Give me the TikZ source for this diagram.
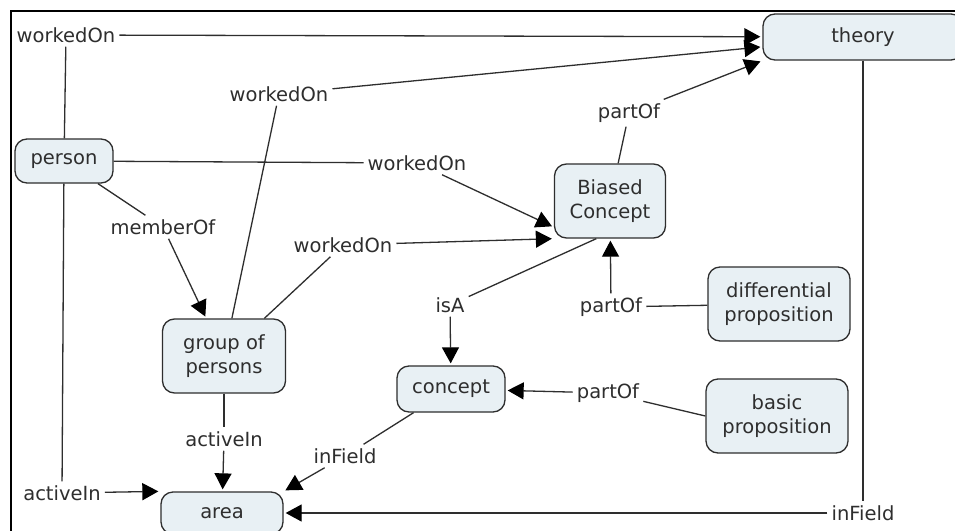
\documentclass[tikz,border=0pt]{standalone}
\usepackage{fontspec}
\setmainfont{DejaVu Sans}
\usetikzlibrary{arrows.meta}
\definecolor{boxfill}{HTML}{E8F0F4}
\definecolor{ink}{HTML}{2E2E2E}
\begin{document}
\begin{tikzpicture}[x=1pt,y=-1pt,
  cbox/.style={draw=ink, fill=boxfill, rounded corners=12pt, line width=1.3pt, align=center, inner sep=0pt, font=\fontsize{19.5}{24}\selectfont, text=ink},
  phrase/.style={inner sep=4pt, font=\fontsize{19.5}{24}\selectfont, text=ink},
  link/.style={draw=ink, line width=1.3pt},
  arr/.style={link, shorten >=2pt, -{Triangle[length=16pt,width=17pt,color=black]}}
]
\useasboundingbox (0,0) rectangle (955,530);
\clip (0,0) rectangle (955,530);
\fill[white] (0,0) rectangle (955,530);
\draw[line width=2pt] (11,531) -- (11,11) -- (956,11);

% concepts
\node[cbox, minimum width=200pt, minimum height=46pt] (theory) at (863,37) {theory};
\node[cbox, minimum width=98pt, minimum height=44pt] (person) at (64,161) {person};
\node[cbox, minimum width=111pt, minimum height=74pt] (bc) at (610,201) {Biased\\Concept};
\node[cbox, minimum width=123pt, minimum height=74pt] (group) at (224,356) {group of\\persons};
\node[cbox, minimum width=122pt, minimum height=42pt] (area) at (222,513) {area};
\node[cbox, minimum width=108pt, minimum height=46pt] (concept) at (451,389) {concept};
\node[cbox, minimum width=142pt, minimum height=74pt] (diff) at (779,304) {differential\\proposition};
\node[cbox, minimum width=142pt, minimum height=74pt] (basic) at (777,416) {basic\\proposition};

% linking phrases
\node[phrase] (wo1) at (66,35) {workedOn};
\node[phrase] (wo2) at (279,94) {workedOn};
\node[phrase] (wo3) at (417,163) {workedOn};
\node[phrase] (wo4) at (343,245) {workedOn};
\node[phrase] (mem) at (163,227) {memberOf};
\node[phrase] (pof1) at (629,113) {partOf};
\node[phrase] (pof2) at (611,307) {partOf};
\node[phrase] (isa) at (450,305) {isA};
\node[phrase] (pof3) at (608,393) {partOf};
\node[phrase] (inf1) at (345,456) {inField};
\node[phrase] (act1) at (224,439) {activeIn};
\node[phrase] (act2) at (62,493) {activeIn};
\node[phrase] (inf2) at (863,513) {inField};

% connectors
\draw[link] (person) -- (wo1);
\draw[arr] (wo1) -- (theory);
\draw[link] (group) -- (wo2);
\draw[arr] (wo2) -- (theory);
\draw[link] (person) -- (wo3);
\draw[arr] (wo3) -- (bc.205);
\draw[link] (group) -- (wo4);
\draw[arr] (wo4) -- (bc.south west);
\draw[link] (person) -- (mem);
\draw[arr] (mem) -- (group);
\draw[link] (bc) -- (pof1);
\draw[arr] (pof1) -- (theory.south west);
\draw[link] (diff) -- (pof2);
\draw[arr] (pof2) -- (bc);
\draw[link] (bc.250) -- (isa);
\draw[arr] (isa) -- (concept);
\draw[link] (basic.west) -- (pof3);
\draw[arr] (pof3) -- (concept);
\draw[link] (concept) -- (inf1);
\draw[arr] (inf1) -- (area.north east);
\draw[link] (group) -- (act1);
\draw[arr] (act1) -- (area);
\draw[link] (person) -- (act2);
\draw[arr] (act2) -- (area.north west);
\draw[link] (theory) -- (inf2);
\draw[arr] (inf2) -- (area);
\end{tikzpicture}
\end{document}
